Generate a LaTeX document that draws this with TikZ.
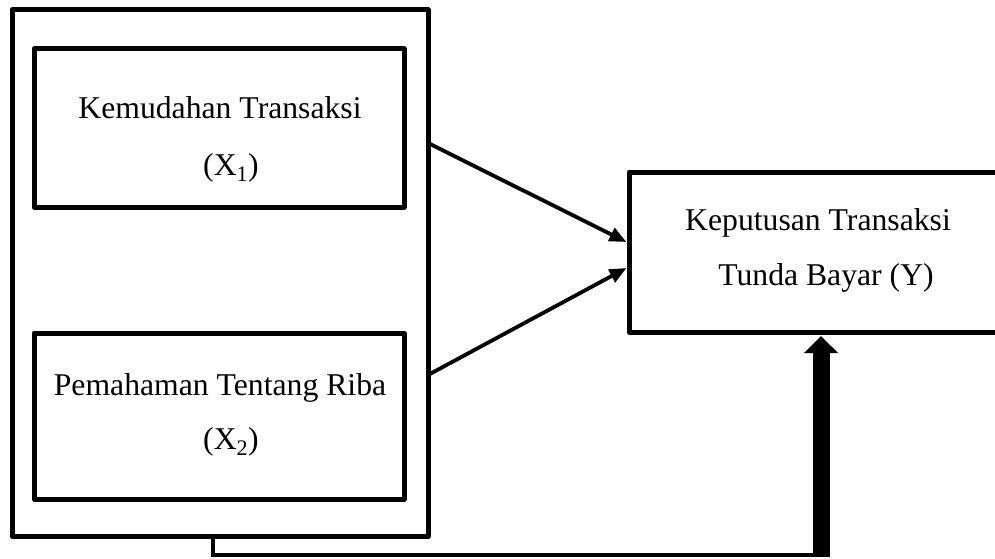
\documentclass[tikz,border=0pt]{standalone}
\usepackage{fontspec}
\setmainfont{Liberation Serif}
\usetikzlibrary{arrows.meta,calc}
\tikzset{
  box/.style={draw, rectangle, line width=5pt, line join=round, inner sep=0pt, outer sep=0pt},
  lbl/.style={anchor=base, inner sep=0pt, font=\fontsize{31.7}{38}\selectfont},
  conn/.style={line width=3.5pt},
  arr/.style={line width=3.8pt, -{Triangle[length=17pt,width=14pt]}},
  bigarr/.style={line width=17pt, -{Triangle[length=17pt,width=33pt]}}
}
\begin{document}
\begin{tikzpicture}[x=1pt,y=-1pt]
\useasboundingbox (0,0) rectangle (995,559);
\node[box, minimum width=416pt, minimum height=526pt] (outer) at (220,273) {};
\node[box, minimum width=370pt, minimum height=158pt] (b1) at (219,128) {};
\node[box, minimum width=370pt, minimum height=166pt] (b2) at (219,416) {};
\begin{scope}
  \clip (0,0) rectangle (995,559);
  \node[box, minimum width=381pt, minimum height=160pt] (right) at (819.5,252) {};
\end{scope}

\draw[arr] ([yshift=130pt]outer.east) -- ([xshift=-2.5pt,yshift=10pt]right.west);
\draw[arr] ([yshift=-102pt]outer.east) -- ([xshift=-2.5pt,yshift=-16pt]right.west);

\coordinate (corner) at ([xshift=1.5pt,yshift=-223pt]right.south);
\draw[conn] ([xshift=-7pt]outer.south) |- (corner);
\draw[bigarr] ([yshift=-1.75pt]corner) -- ([xshift=1.5pt,yshift=-4pt]right.south);

\node[lbl] (t1a) at (220,118) {Kemudahan Transaksi};
\node[lbl] (t1b) at (231,175) {(X\textsubscript{1})};
\node[lbl] (t2a) at (220,395) {Pemahaman Tentang Riba};
\node[lbl] (t2b) at (231,449) {(X\textsubscript{2})};
\node[lbl] (t3a) at (818,230) {Keputusan Transaksi};
\node[lbl] (t3b) at (826,285) {Tunda Bayar (Y)};
\end{tikzpicture}
\end{document}
